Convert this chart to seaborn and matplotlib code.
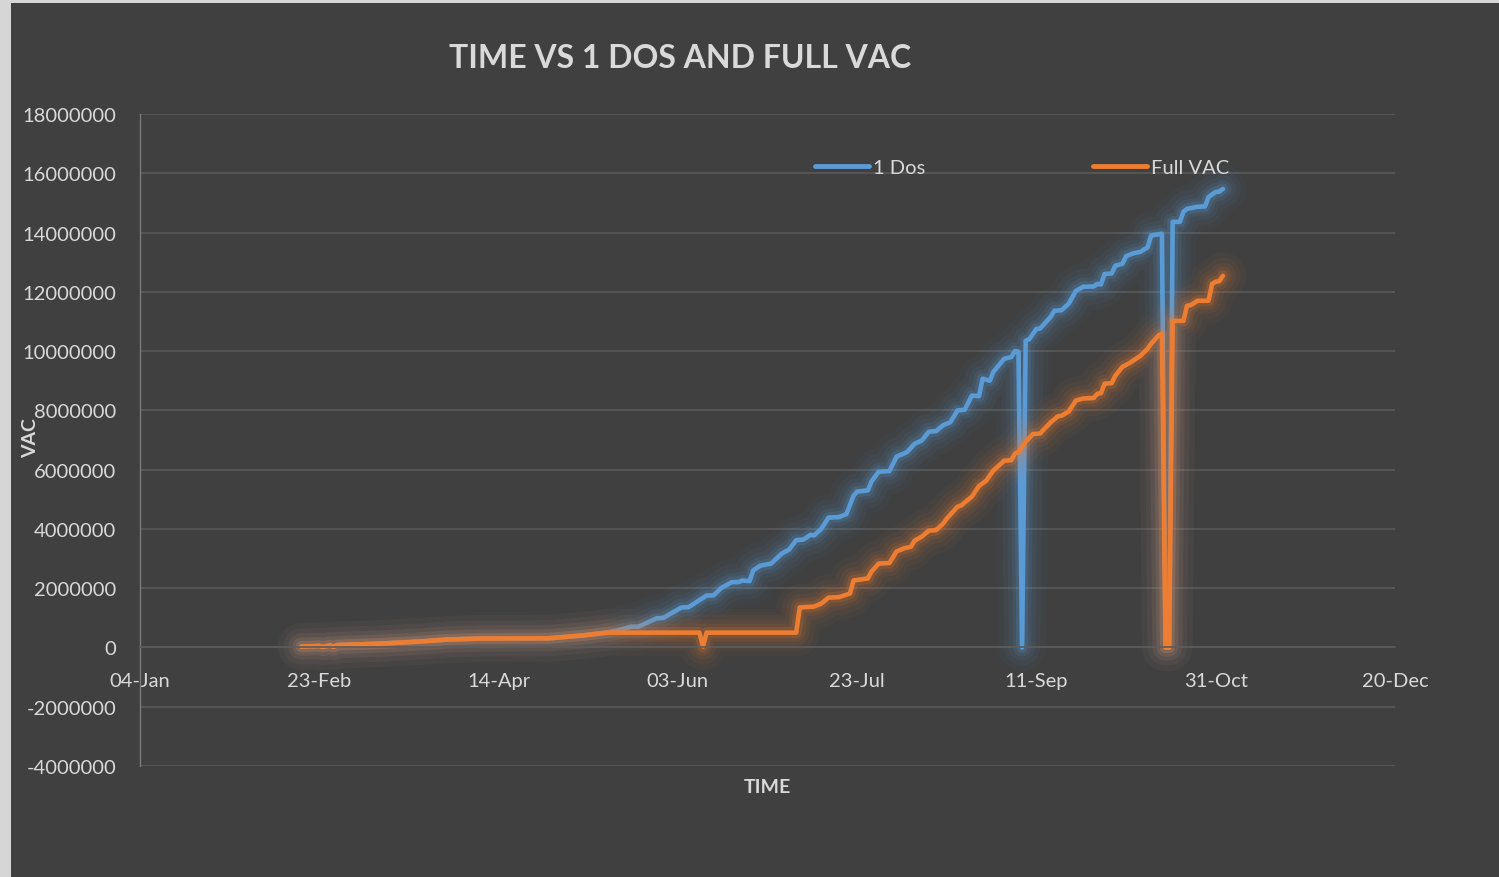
import pandas as pd
import matplotlib
matplotlib.use("Agg")
import matplotlib.pyplot as plt
import matplotlib.dates as mdates
import matplotlib.patheffects as pe
from matplotlib.lines import Line2D
from matplotlib.patches import Rectangle
import seaborn as sns

# Both series are identical until mid May (blue hidden under orange)
early_dates = ["2021-02-18", "2021-02-23", "2021-02-24", "2021-02-26", "2021-02-27",
               "2021-02-28", "2021-03-12", "2021-03-23", "2021-03-31", "2021-04-09",
               "2021-04-28", "2021-05-07", "2021-05-10", "2021-05-14"]
early_values = [30000, 50000, 15000, 70000, 20000,
                80000, 130000, 200000, 270000, 300000,
                310000, 400000, 440000, 500000]

dos1_dates = ["2021-05-17", "2021-05-21", "2021-05-23", "2021-05-28", "2021-05-30",
              "2021-06-04", "2021-06-06", "2021-06-11", "2021-06-13", "2021-06-15",
              "2021-06-18", "2021-06-20", "2021-06-21", "2021-06-23", "2021-06-24",
              "2021-06-26", "2021-06-29", "2021-07-02", "2021-07-04", "2021-07-06",
              "2021-07-08", "2021-07-10", "2021-07-11", "2021-07-13", "2021-07-15",
              "2021-07-18", "2021-07-20", "2021-07-22", "2021-07-23", "2021-07-26",
              "2021-07-27", "2021-07-29", "2021-08-01", "2021-08-03", "2021-08-05",
              "2021-08-06", "2021-08-08", "2021-08-10", "2021-08-12", "2021-08-14",
              "2021-08-16", "2021-08-18", "2021-08-20", "2021-08-22", "2021-08-24",
              "2021-08-26", "2021-08-27", "2021-08-29", "2021-08-30", "2021-09-02",
              "2021-09-04", "2021-09-05", "2021-09-06", "2021-09-07", "2021-09-08",
              "2021-09-09", "2021-09-11", "2021-09-12", "2021-09-15", "2021-09-16",
              "2021-09-18", "2021-09-20", "2021-09-22", "2021-09-24", "2021-09-27",
              "2021-09-28", "2021-09-29", "2021-09-30", "2021-10-02", "2021-10-03",
              "2021-10-05", "2021-10-06", "2021-10-08", "2021-10-10", "2021-10-12",
              "2021-10-13", "2021-10-16", "2021-10-17", "2021-10-18", "2021-10-19",
              "2021-10-21", "2021-10-22", "2021-10-23", "2021-10-26", "2021-10-28",
              "2021-10-29", "2021-10-31", "2021-11-01", "2021-11-02"]
dos1_values = [570000, 700000, 700000, 980000, 1000000,
               1350000, 1360000, 1750000, 1760000, 2000000,
               2200000, 2210000, 2260000, 2240000, 2600000,
               2760000, 2830000, 3170000, 3300000, 3620000,
               3640000, 3800000, 3780000, 4000000, 4380000,
               4400000, 4500000, 5120000, 5260000, 5300000,
               5600000, 5930000, 5950000, 6440000, 6540000,
               6600000, 6870000, 6980000, 7280000, 7300000,
               7500000, 7600000, 8000000, 8020000, 8500000,
               8480000, 9070000, 9000000, 9300000, 9740000,
               9800000, 10000000, 9980000, 0, 10350000,
               10400000, 10750000, 10760000, 11160000, 11360000,
               11380000, 11600000, 12030000, 12170000, 12180000,
               12270000, 12250000, 12600000, 12620000, 12880000,
               12950000, 13200000, 13300000, 13350000, 13500000,
               13900000, 13960000, 0, 0, 14360000,
               14360000, 14700000, 14800000, 14870000, 14880000,
               15200000, 15370000, 15380000, 15470000]

full_dates = ["2021-06-09", "2021-06-10", "2021-06-11", "2021-07-06", "2021-07-07",
              "2021-07-11", "2021-07-13", "2021-07-15", "2021-07-18", "2021-07-21",
              "2021-07-22", "2021-07-26", "2021-07-27", "2021-07-29", "2021-08-01",
              "2021-08-03", "2021-08-05", "2021-08-07", "2021-08-08", "2021-08-10",
              "2021-08-12", "2021-08-14", "2021-08-16", "2021-08-17", "2021-08-20",
              "2021-08-21", "2021-08-24", "2021-08-26", "2021-08-28", "2021-08-30",
              "2021-09-02", "2021-09-04", "2021-09-05", "2021-09-06", "2021-09-08",
              "2021-09-10", "2021-09-12", "2021-09-15", "2021-09-17", "2021-09-18",
              "2021-09-20", "2021-09-22", "2021-09-24", "2021-09-27", "2021-09-28",
              "2021-09-29", "2021-09-30", "2021-10-02", "2021-10-03", "2021-10-05",
              "2021-10-07", "2021-10-10", "2021-10-12", "2021-10-13", "2021-10-15",
              "2021-10-16", "2021-10-17", "2021-10-18", "2021-10-19", "2021-10-22",
              "2021-10-23", "2021-10-24", "2021-10-26", "2021-10-29", "2021-10-30",
              "2021-10-31", "2021-11-01", "2021-11-02"]
full_values = [500000, 30000, 500000, 500000, 1350000,
               1380000, 1480000, 1680000, 1700000, 1820000,
               2260000, 2330000, 2560000, 2830000, 2850000,
               3240000, 3340000, 3400000, 3600000, 3740000,
               3940000, 3960000, 4180000, 4350000, 4750000,
               4790000, 5090000, 5450000, 5630000, 5970000,
               6300000, 6320000, 6540000, 6600000, 6940000,
               7200000, 7220000, 7600000, 7800000, 7820000,
               7960000, 8330000, 8400000, 8420000, 8560000,
               8580000, 8900000, 8920000, 9170000, 9470000,
               9600000, 9840000, 10080000, 10250000, 10520000,
               10580000, 0, 0, 11020000, 11020000,
               11530000, 11550000, 11700000, 11700000, 12270000,
               12340000, 12360000, 12540000]

x_ticks = ["2021-01-04", "2021-02-23", "2021-04-14", "2021-06-03",
           "2021-07-23", "2021-09-11", "2021-10-31", "2021-12-20"]
y_ticks = [-4000000, -2000000, 0, 2000000, 4000000, 6000000, 8000000,
           10000000, 12000000, 14000000, 16000000, 18000000]

df_dos1 = pd.DataFrame({"Date": pd.to_datetime(early_dates + dos1_dates),
                        "VAC": early_values + dos1_values})
df_full = pd.DataFrame({"Date": pd.to_datetime(early_dates + full_dates),
                        "VAC": early_values + full_values})

BG = "#404040"
TXT = "#d9d9d9"
GRID = "#5a5a5a"
BLUE = "#5B9BD5"
ORANGE = "#ED7D31"

sns.set_theme(style="dark", rc={"axes.facecolor": BG, "figure.facecolor": BG})
plt.rcParams["font.family"] = ["Lato", "DejaVu Sans"]

fig = plt.figure(figsize=(14.99, 8.78), dpi=100)
# thin light border on the left and top of the chart picture
fig.patches.append(Rectangle((0, 0), 11 / 1499, 1, transform=fig.transFigure,
                             facecolor="#d6d6d6", edgecolor="none", zorder=-10))
fig.patches.append(Rectangle((0, 1 - 4 / 878), 1, 4 / 878, transform=fig.transFigure,
                             facecolor="#d6d6d6", edgecolor="none", zorder=-10))
ax = fig.add_axes([140 / 1499, 1 - 767 / 878, 1255 / 1499, 652 / 878])


def glow(c):
    # soft Excel-like glow around the line
    return [pe.Stroke(linewidth=34, foreground=c, alpha=0.035),
            pe.Stroke(linewidth=26, foreground=c, alpha=0.05),
            pe.Stroke(linewidth=19, foreground=c, alpha=0.07),
            pe.Stroke(linewidth=13, foreground=c, alpha=0.10),
            pe.Stroke(linewidth=8, foreground=c, alpha=0.18),
            pe.Normal()]


sns.lineplot(data=df_dos1, x="Date", y="VAC", color=BLUE, linewidth=3.3, ax=ax,
             legend=False, estimator=None, sort=False)
sns.lineplot(data=df_full, x="Date", y="VAC", color=ORANGE, linewidth=3.3, ax=ax,
             legend=False, estimator=None, sort=False)
ax.lines[0].set_path_effects(glow(BLUE))
ax.lines[1].set_path_effects(glow(ORANGE))
ax.lines[0].set_solid_joinstyle("round")
ax.lines[1].set_solid_joinstyle("round")

ax.set_xlim(pd.Timestamp("2021-01-04"), pd.Timestamp("2021-12-20"))
ax.set_ylim(-4000000, 18000000)
ax.set_xticks(pd.to_datetime(x_ticks))
ax.xaxis.set_major_formatter(mdates.DateFormatter("%d-%b"))
ax.set_yticks(y_ticks)
ax.set_yticklabels([str(v) for v in y_ticks])
ax.tick_params(axis="both", colors=TXT, length=0, labelsize=14.5)
ax.tick_params(axis="x", pad=18)
ax.tick_params(axis="y", pad=17)

ax.yaxis.grid(True, color=GRID, linewidth=1.2)
ax.xaxis.grid(False)
ax.set_axisbelow(True)
for s in ["top", "right"]:
    ax.spines[s].set_visible(False)
ax.spines["left"].set_color("#7a7a7a")
ax.spines["left"].set_linewidth(1)
ax.spines["bottom"].set_position(("data", 0))
ax.spines["bottom"].set_color(GRID)
ax.spines["bottom"].set_linewidth(1.2)
ax.set_xlabel("")
ax.set_ylabel("")

fig.text(680 / 1499, 1 - 59 / 878, "TIME VS 1 DOS AND FULL VAC", color=TXT,
         fontsize=23, fontweight="bold", ha="center", va="center")
fig.text(31 / 1499, 1 - 438 / 878, "VAC", color=TXT, fontsize=14, fontweight="bold",
         rotation=90, ha="center", va="center")
fig.text(767 / 1499, 1 - 788 / 878, "TIME", color=TXT, fontsize=14, fontweight="bold",
         ha="center", va="center")

handles = [Line2D([0], [0], color=BLUE, linewidth=3.5, solid_capstyle="round"),
           Line2D([0], [0], color=ORANGE, linewidth=3.5, solid_capstyle="round")]
ax.legend(handles, ["1 Dos", "Full VAC"], loc="center left",
          bbox_to_anchor=(815 / 1499, 1 - 168 / 878), bbox_transform=fig.transFigure,
          ncol=2, frameon=False, fontsize=14.5, labelcolor=TXT, borderpad=0,
          borderaxespad=0, handlelength=2.7, handletextpad=0.2, columnspacing=8.3)

fig.savefig("out.png", dpi=100, facecolor=fig.get_facecolor())
